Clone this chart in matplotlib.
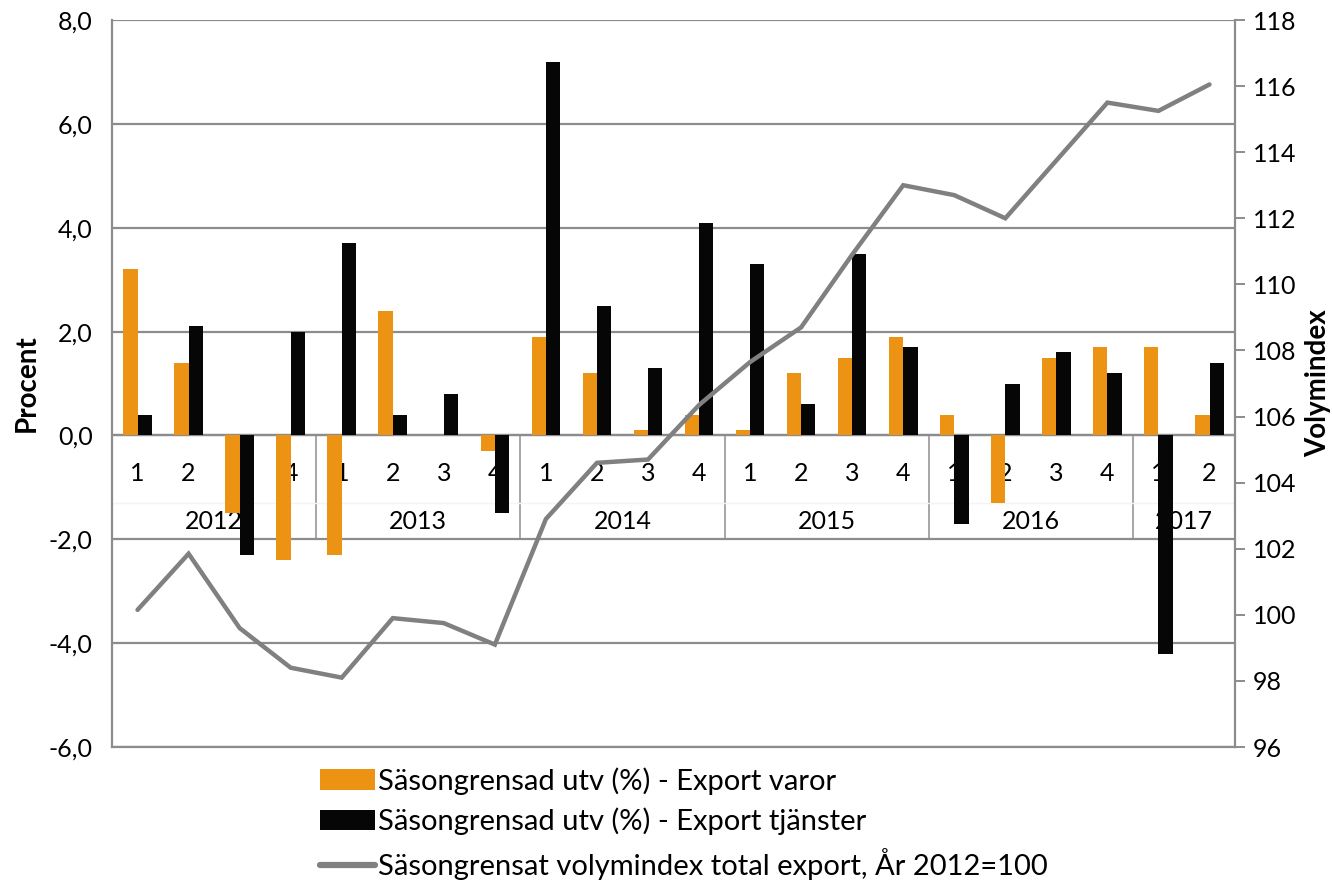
import matplotlib
matplotlib.use("Agg")
import matplotlib.pyplot as plt
from matplotlib.patches import Patch
from matplotlib.lines import Line2D
from matplotlib.ticker import FuncFormatter
import numpy as np

plt.rcParams['font.family'] = ['Lato', 'DejaVu Sans']

# Data
years = ['2012', '2013', '2014', '2015', '2016', '2017']
quarters = ['1', '2', '3', '4'] * 5 + ['1', '2']

varor = [3.2, 1.4, -1.5, -2.4, -2.3, 2.4, 0.0, -0.3, 1.9, 1.2, 0.1, 0.4,
         0.1, 1.2, 1.5, 1.9, 0.4, -1.3, 1.5, 1.7, 1.7, 0.4]
tjanster = [0.4, 2.1, -2.3, 2.0, 3.7, 0.4, 0.8, -1.5, 7.2, 2.5, 1.3, 4.1,
            3.3, 0.6, 3.5, 1.7, -1.7, 1.0, 1.6, 1.2, -4.2, 1.4]
volym = [100.15, 101.85, 99.6, 98.4, 98.1, 99.9, 99.75, 99.1, 102.9, 104.6,
         104.7, 106.35, 107.65, 108.7, 110.9, 113.0, 112.7, 112.0, 113.75,
         115.5, 115.25, 116.05]

label_varor = 'Säsongrensad utv (%) - Export varor'
label_tj = 'Säsongrensad utv (%) - Export tjänster'
label_vol = 'Säsongrensat volymindex total export, År 2012=100'

ORANGE = '#EC9314'
BLACK = '#060606'
LINE_GRAY = '#808080'
GRID_GRAY = '#8c8c8c'

fig = plt.figure(figsize=(13.32, 8.85), dpi=100)
ax = fig.add_axes([0.0841, 0.1559, 0.8431, 0.8215])

x = np.arange(len(varor))
w = 0.28
ax.bar(x - w / 2, varor, width=w, color=ORANGE, zorder=3)
ax.bar(x + w / 2, tjanster, width=w, color=BLACK, zorder=3)

ax.set_xlim(-0.5, len(varor) - 0.5)
ax.set_ylim(-6, 8)
ax.set_yticks(np.arange(-6, 8.1, 2))
ax.yaxis.set_major_formatter(FuncFormatter(lambda v, p: f'{v:.1f}'.replace('.', ',')))
ax.yaxis.grid(True, color=GRID_GRAY, linewidth=1.6, zorder=0)
ax.set_xticks([])
ax.tick_params(axis='y', length=0, labelsize=18, pad=14)
for s in ['left', 'bottom']:
    ax.spines[s].set_color(GRID_GRAY)
    ax.spines[s].set_linewidth(1.6)
for s in ['top', 'right']:
    ax.spines[s].set_visible(False)
ax.set_ylabel('Procent', fontsize=20, fontweight='bold', labelpad=6)

# Two-level category labels inside the plot
ax.axhline(0, color=GRID_GRAY, linewidth=1.6, zorder=1)
for b in range(4, len(varor), 4):
    ax.plot([b - 0.5, b - 0.5], [0, -2], color='#a6a6a6', linewidth=1.4, zorder=1)
ax.plot([-0.5, len(varor) - 0.5], [-1.3, -1.3], color='#f4f4f4', linewidth=1.0, zorder=1)
for i, q in enumerate(quarters):
    ax.text(i, -0.73, q, ha='center', va='center', fontsize=18, zorder=2)
for k, yr in enumerate(years):
    start = 4 * k
    end = min(start + 4, len(varor)) - 1
    ax.text((start + end) / 2, -1.66, yr, ha='center', va='center', fontsize=18, zorder=2)

# Right axis: volume index
ax2 = ax.twinx()
ax2.plot(x, volym, color=LINE_GRAY, linewidth=3.2, solid_capstyle='round',
         solid_joinstyle='miter', zorder=5)
ax2.set_ylim(96, 118)
ax2.set_yticks(np.arange(96, 118.1, 2))
ax2.tick_params(axis='y', length=7, width=1.4, color=GRID_GRAY, labelsize=18, pad=6)
for s in ['left', 'top', 'bottom']:
    ax2.spines[s].set_visible(False)
ax2.spines['right'].set_color(GRID_GRAY)
ax2.spines['right'].set_linewidth(1.6)
ax2.set_ylabel('Volymindex', fontsize=20, fontweight='bold', labelpad=6)

handles = [Patch(facecolor=ORANGE, edgecolor='none'),
           Patch(facecolor=BLACK, edgecolor='none'),
           Line2D([0], [0], color=LINE_GRAY, linewidth=4.5, solid_capstyle='round')]
fig.legend(handles, [label_varor, label_tj, label_vol], loc='upper left',
           bbox_to_anchor=(0.240, 0.133), frameon=False, fontsize=21,
           handlelength=1.9, handleheight=0.7, handletextpad=0.1,
           labelspacing=0.44, borderpad=0, borderaxespad=0)

fig.savefig('out.png', dpi=100)
